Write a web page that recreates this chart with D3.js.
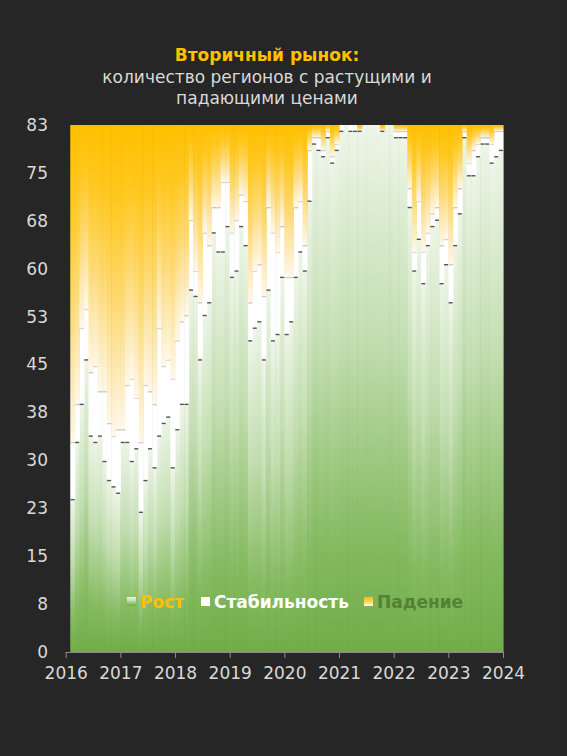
<!DOCTYPE html>
<meta charset="utf-8">
<script src="https://d3js.org/d3.v7.min.js"></script>
<style>
	body {
		margin: 0;
		padding: 0;
		background-color: #262626;
		overflow: hidden;
	}
	text {
		font-family: "DejaVu Sans", sans-serif;
	}
</style>
<div id="chart"></div>
<script>
	// months from Feb 2016 to Dec 2023, number of regions (of 83)
	const firstMonth = 1; // month index of the first bar, Jan 2016 = 0
	const rost = [24, 33, 39, 46, 34, 33, 34, 30, 27, 26, 25, 33,
		33, 30, 32, 22, 27, 32, 29, 34, 36, 37, 29, 35,
		39, 39, 57, 56, 46, 53, 55, 66, 63, 63, 67, 59,
		60, 67, 64, 49, 51, 52, 46, 57, 49, 50, 59, 50,
		52, 59, 63, 60, 71, 80, 79, 78, 81, 77, 79, 82,
		83, 82, 82, 82, 83, 83, 83, 83, 82, 83, 83, 81,
		81, 81, 70, 60, 65, 58, 64, 67, 68, 58, 61, 55,
		64, 69, 81, 75, 75, 78, 80, 80, 77, 78, 79];
	const stab = [9, 6, 12, 8, 10, 12, 7, 11, 9, 8, 10, 2,
		9, 13, 8, 11, 15, 9, 10, 17, 9, 9, 14, 14,
		13, 14, 11, 4, 9, 13, 9, 4, 7, 11, 7, 7,
		8, 5, 7, 6, 9, 9, 10, 13, 17, 13, 8, 9,
		7, 11, 8, 4, 8, 1, 2, 1, 1, 1, 1, 1,
		0, 1, 1, 0, 0, 0, 0, 0, 0, 0, 0, 1,
		1, 1, 3, 3, 6, 5, 2, 2, 2, 6, 4, 6,
		6, 4, 1, 2, 4, 2, 1, 1, 3, 4, 3];
	const pad = [50, 44, 32, 29, 39, 38, 42, 42, 47, 49, 48, 48,
		41, 40, 43, 50, 41, 42, 44, 32, 38, 37, 40, 34,
		31, 30, 15, 23, 28, 17, 19, 13, 13, 9, 9, 17,
		15, 11, 12, 28, 23, 22, 27, 13, 17, 20, 16, 24,
		24, 13, 12, 19, 4, 2, 2, 4, 1, 5, 3, 0,
		0, 0, 0, 1, 0, 0, 0, 0, 1, 0, 0, 1,
		1, 1, 10, 20, 12, 20, 17, 14, 13, 19, 18, 22,
		13, 10, 1, 6, 4, 3, 2, 2, 3, 1, 1];
	const years = [2016, 2017, 2018, 2019, 2020, 2021, 2022, 2023, 2024];
	const yLabels = [0, 8, 15, 23, 30, 38, 45, 53, 60, 68, 75, 83];
	const TOTAL = 83;
	const keys = ["rost", "stab", "pad"];

	const WIDTH = 567;
	const HEIGHT = 756;

	const svg = d3.select("#chart")
		.append("svg")
		.attr("width", WIDTH)
		.attr("height", HEIGHT);

	const defs = svg.append("defs");
	const green = defs.append("linearGradient")
		.attr("id", "g-rost")
		.attr("x1", 0).attr("y1", 1).attr("x2", 0).attr("y2", 0);
	[[0, "#70ad47"], [0.22, "#86bb62"], [0.6, "#c3deb1"], [1, "#edf5e7"]]
		.forEach(s => green.append("stop").attr("offset", s[0]).attr("stop-color", s[1]));
	const yellow = defs.append("linearGradient")
		.attr("id", "g-pad")
		.attr("x1", 0).attr("y1", 0).attr("x2", 0).attr("y2", 1);
	[[0, "#ffc000"], [0.25, "#ffc821"], [0.55, "#fed86c"], [0.8, "#fde9b4"], [1, "#fff8ea"]]
		.forEach(s => yellow.append("stop").attr("offset", s[0]).attr("stop-color", s[1]));

	const fills = { rost: "url(#g-rost)", stab: "#ffffff", pad: "url(#g-pad)" };

	const table = rost.map((r, i) => ({ m: firstMonth + i, rost: r, stab: stab[i], pad: pad[i] }));
	const series = d3.stack().keys(keys)(table);

	const x = d3.scaleLinear().domain([0, 96]).range([65.7, 503]);
	const y = d3.scaleLinear().domain([0, TOTAL]).range([652, 125]);

	// bars
	svg.append("g")
		.selectAll("g")
		.data(series)
		.join("g")
		.attr("fill", d => fills[d.key])
		.selectAll("rect")
		.data(d => d.filter(p => p[1] > p[0]))
		.join("rect")
		.attr("x", d => x(d.data.m))
		.attr("width", d => x(d.data.m + 1) - x(d.data.m) + 0.6)
		.attr("y", d => y(d[1]))
		.attr("height", d => y(d[0]) - y(d[1]));

	// faint edge where decline starts
	svg.append("g")
		.selectAll("line")
		.data(table.filter(d => d.pad > 0 && d.stab > 0))
		.join("line")
		.attr("x1", d => x(d.m))
		.attr("x2", d => x(d.m + 1))
		.attr("y1", d => y(d.rost + d.stab) + 0.5)
		.attr("y2", d => y(d.rost + d.stab) + 0.5)
		.attr("stroke", "#cfcfcf")
		.attr("stroke-width", 0.8);

	// dark mark on top of growth
	svg.append("g")
		.selectAll("line")
		.data(table.filter(d => d.rost < TOTAL))
		.join("line")
		.attr("x1", d => x(d.m) + 0.3)
		.attr("x2", d => x(d.m + 1) - 0.3)
		.attr("y1", d => y(d.rost))
		.attr("y2", d => y(d.rost))
		.attr("stroke", "#555555")
		.attr("stroke-width", 1.4);

	// x axis
	const xAxis = svg.append("g")
		.attr("transform", "translate(0,652)")
		.call(d3.axisBottom(x)
			.tickValues(years.map((yr, k) => k * 12))
			.tickFormat((d, k) => years[k])
			.tickSize(6)
			.tickSizeOuter(0));
	xAxis.select(".domain").attr("stroke", "#8c8c8c").attr("d", "M65.7,0.5H503");
	xAxis.selectAll(".tick line").attr("stroke", "#8c8c8c");
	xAxis.selectAll("text")
		.attr("fill", "#d9d9d9")
		.attr("font-size", 17)
		.attr("dy", "1.05em");

	// y labels
	const yAxis = svg.append("g")
		.attr("transform", "translate(50,0)")
		.call(d3.axisLeft(y)
			.tickValues(yLabels.map((v, k) => TOTAL * k / (yLabels.length - 1)))
			.tickFormat((d, k) => yLabels[k])
			.tickSize(0)
			.tickPadding(2));
	yAxis.select(".domain").remove();
	yAxis.selectAll("text")
		.attr("fill", "#d9d9d9")
		.attr("font-size", 17);

	// title
	const title = svg.append("g").attr("text-anchor", "middle");
	title.append("text")
		.attr("x", 267).attr("y", 61)
		.attr("fill", "#ffc000")
		.attr("font-size", 17)
		.attr("font-weight", "bold")
		.text("Вторичный рынок:");
	title.append("text")
		.attr("x", 267).attr("y", 83)
		.attr("fill", "#d9d9d9")
		.attr("font-size", 17)
		.text("количество регионов с растущими и");
	title.append("text")
		.attr("x", 267).attr("y", 104)
		.attr("fill", "#d9d9d9")
		.attr("font-size", 17)
		.text("падающими ценами");

	// legend
	const legendItems = [
		{ label: "Рост", mark: "url(#g-rost)", color: "#ffc000", x: 127 },
		{ label: "Стабильность", mark: "#ffffff", color: "#ffffff", x: 201 },
		{ label: "Падение", mark: "url(#g-pad)", color: "#548235", x: 364 }
	];
	const legend = svg.append("g")
		.selectAll("g")
		.data(legendItems)
		.join("g")
		.attr("transform", d => `translate(${d.x},597)`);
	legend.append("rect")
		.attr("width", 9)
		.attr("height", 9)
		.attr("fill", d => d.mark);
	legend.append("text")
		.attr("x", 13)
		.attr("y", 11)
		.attr("fill", d => d.color)
		.attr("font-size", 17)
		.attr("font-weight", "bold")
		.text(d => d.label);
</script>
